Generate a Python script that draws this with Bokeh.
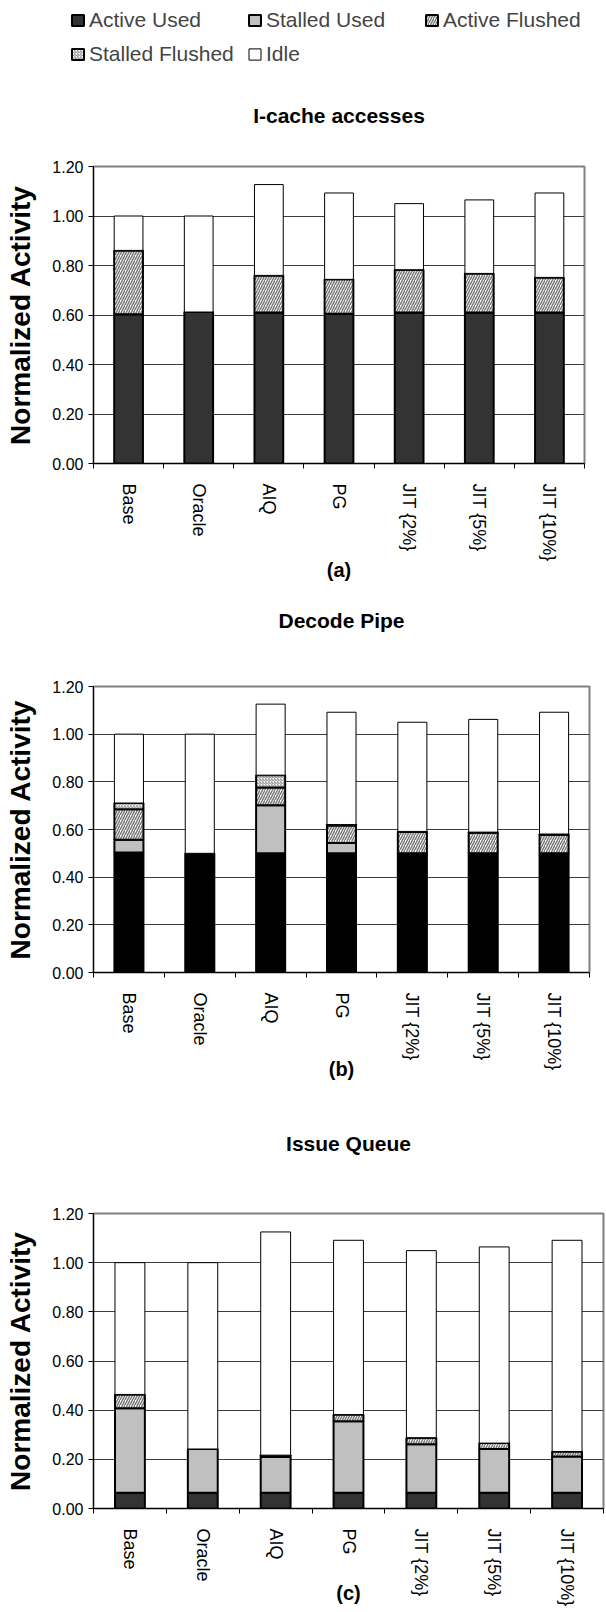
from bokeh.plotting import figure
from bokeh.models import (Range1d, FixedTicker, NumeralTickFormatter, Legend, LegendItem,
                          ColumnDataSource, LinearAxis)
from bokeh.layouts import column
from bokeh.embed import file_html
from bokeh.resources import INLINE

# ---------------- data ----------------
categories = ["Base", "Oracle", "AIQ", "PG", "JIT {2%}", "JIT {5%}", "JIT {10%}"]
series = ["Active Used", "Stalled Used", "Active Flushed", "Stalled Flushed", "Idle"]
y_ticks = [0.0, 0.2, 0.4, 0.6, 0.8, 1.0, 1.2]

# (a) I-cache accesses
icache_active_used = [0.603, 0.612, 0.610, 0.605, 0.610, 0.610, 0.610]
icache_stalled_used = [0.0, 0.0, 0.0, 0.0, 0.0, 0.0, 0.0]
icache_active_flushed = [0.258, 0.0, 0.150, 0.139, 0.173, 0.158, 0.142]
icache_stalled_flushed = [0.0, 0.0, 0.0, 0.0, 0.0, 0.0, 0.0]
icache_idle = [0.139, 0.388, 0.367, 0.349, 0.267, 0.297, 0.341]

# (b) Decode Pipe
decode_active_used = [0.503, 0.500, 0.500, 0.500, 0.500, 0.500, 0.500]
decode_stalled_used = [0.054, 0.0, 0.202, 0.043, 0.0, 0.0, 0.0]
decode_active_flushed = [0.128, 0.0, 0.074, 0.074, 0.089, 0.086, 0.078]
decode_stalled_flushed = [0.026, 0.0, 0.052, 0.004, 0.003, 0.003, 0.003]
decode_idle = [0.289, 0.500, 0.298, 0.471, 0.458, 0.473, 0.511]

# (c) Issue Queue
iq_active_used = [0.064, 0.064, 0.064, 0.064, 0.064, 0.064, 0.064]
iq_stalled_used = [0.344, 0.178, 0.145, 0.291, 0.197, 0.178, 0.148]
iq_active_flushed = [0.056, 0.0, 0.008, 0.027, 0.027, 0.024, 0.020]
iq_stalled_flushed = [0.0, 0.0, 0.0, 0.0, 0.0, 0.0, 0.0]
iq_idle = [0.536, 0.758, 0.908, 0.709, 0.761, 0.798, 0.859]

# ---------------- style ----------------
FONT = "Liberation Sans"
YMAX = 1.2
BAR_W = 0.41
LEFT = 93
HATCH = [None, None, "/", "/", None]
HATCH_SCALE = [12, 12, 5, 3, 12]
HATCH_WEIGHT = [1, 1, 1.5, 1, 1]
HATCH_COLOR = ["black", "black", "#7a7a7a", "#8c8c8c", "black"]
LINE_W = [2, 2, 2, 2, 1]


def fills(active):
    return [active, "#c0c0c0", "white", "white", "white"]


# ---------------- legend (proxy glyphs carry no visible data) ----------------
leg = figure(width=606, height=70, min_border_left=70, min_border_top=8,
             min_border_right=0, min_border_bottom=0,
             x_range=Range1d(0, 1), y_range=Range1d(0, 1),
             x_axis_type=None, y_axis_type=None,
             output_backend="svg", toolbar_location=None, tools="")
leg.frame_align = False
leg.outline_line_color = None
leg.xgrid.visible = False
leg.ygrid.visible = False
items = []
nan = float("nan")
for i, name in enumerate(series):
    r = leg.vbar(x=[nan], top=[nan], width=1, fill_color=fills("#333333")[i],
                 line_color="black", line_width=LINE_W[i],
                 hatch_pattern=HATCH[i], hatch_scale=HATCH_SCALE[i],
                 hatch_weight=HATCH_WEIGHT[i], hatch_color=HATCH_COLOR[i])
    items.append(LegendItem(label=name, renderers=[r]))
legend = Legend(items=items, location="top_left", orientation="horizontal", ncols=3,
                margin=0, padding=8, spacing=10, glyph_width=15, glyph_height=14,
                label_standoff=4, label_width=148,
                label_text_font=FONT, label_text_font_size="21px",
                border_line_color=None, background_fill_alpha=0)
leg.add_layout(legend)


# ---------------- charts ----------------
def make_chart(layers, active_color, title, caption, top_b, frame_h, bottom_b,
               frame_w, right_b, title_standoff, caption_standoff):
    n = len(categories)
    centers = [i + 0.5 for i in range(n)]
    data = {"x": centers}
    for name, vals in zip(series, layers):
        data[name] = vals
    src = ColumnDataSource(data)
    p = figure(frame_width=frame_w, frame_height=frame_h,
               x_range=Range1d(0, n), y_range=Range1d(0, YMAX),
               min_border_left=LEFT, min_border_right=right_b,
               min_border_top=top_b, min_border_bottom=bottom_b,
               output_backend="svg", toolbar_location=None, tools="")
    p.vbar_stack(series, x="x", width=BAR_W, source=src,
                 fill_color=fills(active_color), line_color="black",
                 line_width=LINE_W, hatch_pattern=HATCH, hatch_scale=HATCH_SCALE,
                 hatch_weight=HATCH_WEIGHT, hatch_color=HATCH_COLOR)
    p.outline_line_color = "#808080"
    p.outline_line_width = 2
    p.xgrid.visible = False
    p.ygrid.ticker = FixedTicker(ticks=y_ticks)
    p.ygrid.grid_line_color = "#3c3c3c"
    p.ygrid.grid_line_width = 1

    xa = p.xaxis[0]
    xa.ticker = FixedTicker(ticks=centers, minor_ticks=list(range(n + 1)))
    xa.major_label_overrides = {c: lab for c, lab in zip(centers, categories)}
    xa.major_label_orientation = "vertical"
    xa.major_tick_out = 0
    xa.major_tick_in = 0
    xa.minor_tick_out = 5
    xa.minor_tick_in = 0
    xa.minor_tick_line_color = "black"
    xa.axis_line_color = "black"
    xa.major_label_standoff = 15
    xa.major_label_text_font = FONT
    xa.major_label_text_font_size = "18px"
    xa.major_label_text_color = "black"
    xa.axis_label = caption
    xa.axis_label_standoff = caption_standoff
    xa.axis_label_text_font = FONT
    xa.axis_label_text_font_size = "20px"
    xa.axis_label_text_font_style = "bold"
    xa.axis_label_text_color = "black"

    ya = p.yaxis[0]
    ya.ticker = FixedTicker(ticks=y_ticks)
    ya.formatter = NumeralTickFormatter(format="0.00")
    ya.major_tick_out = 5
    ya.major_tick_in = 0
    ya.minor_tick_out = 0
    ya.minor_tick_in = 0
    ya.major_tick_line_color = "black"
    ya.axis_line_color = "black"
    ya.major_label_standoff = 5
    ya.major_label_text_font = FONT
    ya.major_label_text_font_size = "16px"
    ya.major_label_text_color = "black"
    ya.axis_label = "Normalized Activity"
    ya.axis_label_text_font = FONT
    ya.axis_label_text_font_size = "28px"
    ya.axis_label_text_font_style = "bold"
    ya.axis_label_text_color = "black"
    ya.axis_label_standoff = 13

    # chart title carried by a tick-less axis above the frame
    ta = LinearAxis(ticker=FixedTicker(ticks=[]), axis_line_color=None,
                    major_tick_out=0, major_tick_in=0, minor_tick_out=0, minor_tick_in=0,
                    major_label_standoff=0, major_label_text_font_size="0px",
                    axis_label=title, axis_label_standoff=title_standoff,
                    axis_label_text_font=FONT, axis_label_text_font_size="21px",
                    axis_label_text_font_style="bold", axis_label_text_color="black")
    p.add_layout(ta, "above")
    return p


pa = make_chart([icache_active_used, icache_stalled_used, icache_active_flushed,
                 icache_stalled_flushed, icache_idle], "#333333",
                "I-cache accesses", "(a)", 96, 297, 132, 491, 22, 40, -6)
pb = make_chart([decode_active_used, decode_stalled_used, decode_active_flushed,
                 decode_stalled_flushed, decode_idle], "#000000",
                "Decode Pipe", "(b)", 91, 286, 123, 496, 17, 55, -16)
pc = make_chart([iq_active_used, iq_stalled_used, iq_active_flushed,
                 iq_stalled_flushed, iq_idle], "#333333",
                "Issue Queue", "(c)", 118, 295, 102, 510, 3, 59, -28)

layout = column(leg, pa, pb, pc, spacing=0)
open("out.html", "w").write(file_html(layout, INLINE))
